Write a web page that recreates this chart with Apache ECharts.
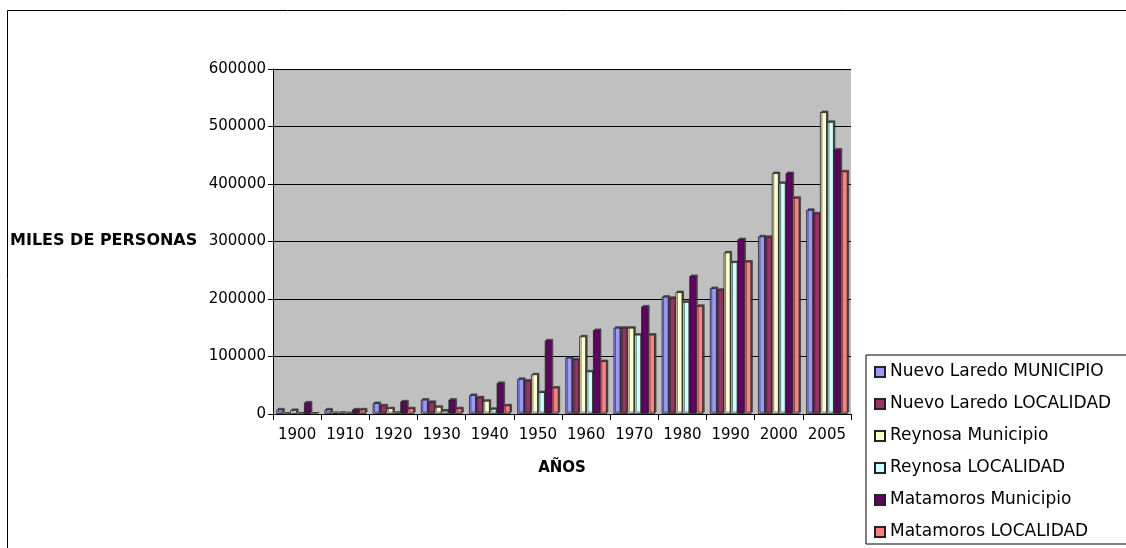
<!DOCTYPE html>
<html>
<head>
<meta charset="utf-8">
<script src="https://cdn.jsdelivr.net/npm/echarts@6/dist/echarts.min.js"></script>
<style>
html,body{margin:0;padding:0;background:#fff;}
#chart{width:1126px;height:548px;}
</style>
</head>
<body>
<div id="chart"></div>
<script>
var years = ['1900','1910','1920','1930','1940','1950','1960','1970','1980','1990','2000','2005'];
var nlMunicipio = [8000, 8000, 19000, 25000, 33000, 61000, 98000, 150000, 204000, 219000, 309000, 355000];
var nlLocalidad = [0, 1500, 15000, 21000, 29000, 58000, 95000, 150000, 202000, 216000, 308000, 349000];
var reyMunicipio = [7000, 2000, 10000, 12500, 23000, 69000, 135000, 150000, 212000, 281000, 419000, 525000];
var reyLocalidad = [0, 1000, 2000, 6000, 9000, 38000, 74000, 138000, 195000, 264000, 402000, 508000];
var matMunicipio = [20000, 8000, 22000, 25000, 54000, 128000, 146000, 187000, 240000, 304000, 419000, 460000];
var matLocalidad = [0, 8000, 10000, 10000, 15000, 46000, 92000, 138000, 188000, 265000, 376000, 422000];
var seriesNames = ['Nuevo Laredo MUNICIPIO','Nuevo Laredo LOCALIDAD','Reynosa Municipio','Reynosa LOCALIDAD','Matamoros Municipio','Matamoros LOCALIDAD'];
var seriesData = [nlMunicipio, nlLocalidad, reyMunicipio, reyLocalidad, matMunicipio, matLocalidad];
var colors = ['#9999ff','#993366','#ffffcc','#ccffff','#660066','#ff8080'];
var yTicks = {min:0, max:600000, interval:100000};

var FONT = 'DejaVu Sans';
var chart = echarts.init(document.getElementById('chart'), null, {renderer:'canvas'});
var series = seriesNames.map(function(n, i){
  return {
    name: n, type: 'bar', data: seriesData[i],
    barGap: '0%', barCategoryGap: '14%',
    itemStyle: {color: colors[i], borderColor: '#222', borderWidth: 0.8,
      shadowColor: 'rgba(40,40,40,0.75)', shadowOffsetX: 1.5, shadowOffsetY: -1.5, shadowBlur: 0}
  };
});
chart.setOption({
  animation: false,
  color: colors,
  textStyle: {fontFamily: FONT},
  grid: {left: 273, right: 275, top: 69, bottom: 134, show: true, backgroundColor: '#c0c0c0', borderWidth: 0},
  graphic: [
    {type:'rect', shape:{x:7.5, y:10.5, width:1300, height:700}, style:{fill:'none', stroke:'#000', lineWidth:1}, silent:true, z:-10},
    {type:'text', left: 10, top: 233, style:{text:'MILES DE PERSONAS', font:'bold 16px "DejaVu Sans"', fill:'#000'}}
  ],
  legend: {
    orient: 'vertical', left: 866, top: 355,
    itemWidth: 10, itemHeight: 10, itemGap: 14,
    padding: [8, 300, 3, 8],
    borderColor: '#000', borderWidth: 1, backgroundColor: '#fff',
    icon: 'rect',
    textStyle: {fontFamily: FONT, fontSize: 17, lineHeight: 18, color: '#000'},
    data: seriesNames
  },
  xAxis: {
    type: 'category', data: years,
    name: 'AÑOS', nameLocation: 'middle', nameGap: 47,
    nameTextStyle: {fontFamily: FONT, fontWeight: 'bold', fontSize: 15, color: '#000'},
    axisLine: {lineStyle: {color: '#000', width: 1}},
    axisTick: {show: true, length: 6, interval: 0, lineStyle: {color: '#000'}},
    axisLabel: {fontFamily: FONT, fontSize: 15, color: '#000', margin: 14, interval: 0}
  },
  yAxis: {
    type: 'value', min: yTicks.min, max: yTicks.max, interval: yTicks.interval,
    axisLine: {show: true, lineStyle: {color: '#000', width: 1}},
    axisTick: {show: true, length: 5, lineStyle: {color: '#000'}},
    axisLabel: {fontFamily: FONT, fontSize: 15, color: '#000', margin: 7, formatter: function(v){ return String(v); }},
    splitLine: {lineStyle: {color: '#000', width: 1}}
  },
  series: series
});
</script>
</body>
</html>
